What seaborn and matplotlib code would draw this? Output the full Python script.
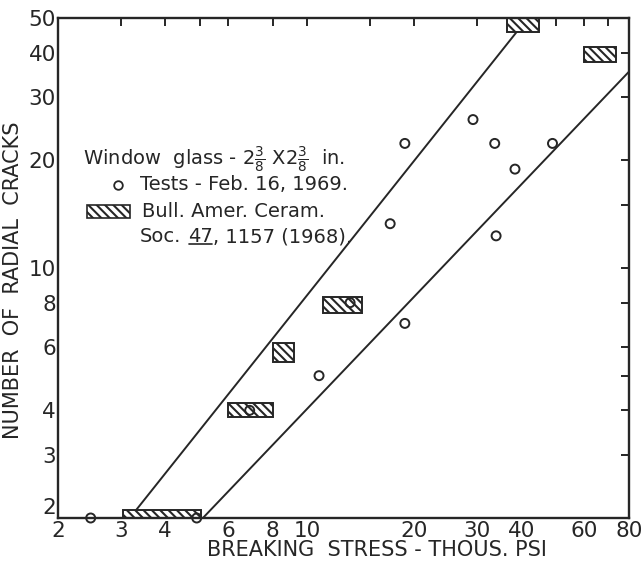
import numpy as np
import pandas as pd
import matplotlib
matplotlib.use("Agg")
import matplotlib.pyplot as plt
from matplotlib.patches import Rectangle
from matplotlib.lines import Line2D
import seaborn as sns

# ---------------- data ----------------
# Tests - Feb. 16, 1969 (open circles)
test_stress = [2.47, 4.9, 6.9, 10.8, 13.2, 18.8, 17.1, 18.8, 29.2, 33.6, 33.9, 38.3, 48.8]
test_cracks = [2.0, 2.0, 4.0, 5.0, 8.0, 7.0, 13.3, 22.3, 26.0, 22.3, 12.3, 18.9, 22.3]

# Bull. Amer. Ceram. Soc. 47, 1157 (1968) (hatched ranges)
bull_stress_lo = [3.05, 5.98, 8.0, 11.1, 36.3, 59.8]
bull_stress_hi = [5.05, 8.02, 9.2, 14.3, 44.6, 73.5]
bull_cracks_lo = [1.9, 3.83, 5.47, 7.47, 45.8, 37.7]
bull_cracks_hi = [2.11, 4.2, 6.18, 8.3, 52.0, 41.6]

# Boundary lines (end points)
upper_line_x = [3.18, 41.6]
upper_line_y = [2.0, 50.0]
lower_line_x = [5.1, 80.0]
lower_line_y = [2.0, 35.4]

x_ticks = [2, 3, 4, 5, 6, 8, 10, 15, 20, 30, 40, 50, 60, 70, 80]
x_tick_labels = ["2", "3", "4", "", "6", "8", "10", "", "20", "30", "40", "", "60", "", "80"]
y_ticks = [2, 3, 4, 5, 6, 8, 10, 15, 20, 30, 40, 50]
y_tick_labels = ["2", "3", "4", "", "6", "8", "10", "", "20", "30", "40", "50"]

x_label = "BREAKING  STRESS - THOUS. PSI"
y_label = "NUMBER  OF  RADIAL  CRACKS"
legend_title = r"Window  glass - 2$\frac{3}{8}$ X2$\frac{3}{8}$  in."
legend_tests = "Tests - Feb. 16, 1969."
legend_bull_1 = "Bull. Amer. Ceram."
legend_bull_2a = "Soc."
legend_bull_2b = "47"
legend_bull_2c = ", 1157 (1968)."

# ---------------- style ----------------
sns.set_theme(style="white")
plt.rcParams["font.family"] = ["DejaVu Sans"]
plt.rcParams["hatch.linewidth"] = 1.5
plt.rcParams["mathtext.fontset"] = "dejavusans"
INK = "#262626"
HATCH = "\\\\\\\\"

fig = plt.figure(figsize=(6.43, 5.63), dpi=100)
ax = fig.add_axes([58 / 643, (563 - 518) / 563, 571 / 643, 500 / 563])
ax.set_xscale("log")
ax.set_yscale("log")
ax.set_xlim(2, 80)
ax.set_ylim(2, 50)

# lines
sns.lineplot(x=upper_line_x, y=upper_line_y, ax=ax, color=INK, lw=1.4, zorder=2)
sns.lineplot(x=lower_line_x, y=lower_line_y, ax=ax, color=INK, lw=1.4, zorder=2)

# hatched ranges
for x0, x1, y0, y1 in zip(bull_stress_lo, bull_stress_hi, bull_cracks_lo, bull_cracks_hi):
    ax.add_patch(Rectangle((x0, y0), x1 - x0, y1 - y0, facecolor="white",
                           edgecolor=INK, hatch=HATCH, lw=1.4, zorder=3))

# circles
df = pd.DataFrame({"stress": test_stress, "cracks": test_cracks})
sns.scatterplot(data=df, x="stress", y="cracks", ax=ax, marker="o", s=42,
                facecolor="none", edgecolor=INK, linewidth=1.4, zorder=4, clip_on=False)

# axes styling
ax.xaxis.set_minor_locator(matplotlib.ticker.NullLocator())
ax.yaxis.set_minor_locator(matplotlib.ticker.NullLocator())
ax.set_xticks(x_ticks)
ax.set_xticklabels(x_tick_labels)
ax.set_yticks(y_ticks)
ax.set_yticklabels(y_tick_labels)
ax.tick_params(axis="both", which="major", direction="in", length=6, width=1.4,
               color=INK, labelsize=15.5, labelcolor=INK, top=True, right=True, pad=2)
ax.tick_params(axis="y", pad=1.5)
ax.get_yticklabels()[0].set_verticalalignment("bottom")
for sp in ax.spines.values():
    sp.set_visible(True)
    sp.set_color(INK)
    sp.set_linewidth(1.7)
    sp.set_zorder(5)

ax.set_xlabel(x_label, fontsize=15, color=INK)
ax.set_ylabel(y_label, fontsize=15, color=INK)
ax.xaxis.set_label_coords(0.558, -0.044)
ax.yaxis.set_label_coords(-0.062, 0.476)

# legend (hand placed)
fs = 14
ax.text(0.043, 0.716, legend_title, transform=ax.transAxes, fontsize=fs, color=INK,
        ha="left", va="center")
ax.plot([0.1045], [0.666], transform=ax.transAxes, marker="o", ms=6.2, mfc="none",
        mec=INK, mew=1.3, ls="none")
ax.text(0.1436, 0.666, legend_tests, transform=ax.transAxes, fontsize=fs, color=INK,
        ha="left", va="center")
ax.add_patch(Rectangle((0.0504, 0.6), 0.0756, 0.026, transform=ax.transAxes,
                       facecolor="white", edgecolor=INK, hatch=HATCH, lw=1.2, zorder=3))
ax.text(0.1464, 0.6126, legend_bull_1, transform=ax.transAxes, fontsize=fs, color=INK,
        ha="left", va="center")
t1 = ax.text(0.1436, 0.5626, legend_bull_2a, transform=ax.transAxes, fontsize=fs,
             color=INK, ha="left", va="center")
t2 = ax.annotate(legend_bull_2b, xy=(1, 0), xycoords=t1, xytext=(5, 0),
                 textcoords="offset points", fontsize=fs, color=INK, ha="left", va="bottom")
t3 = ax.annotate(legend_bull_2c, xy=(1, 0), xycoords=t2, xytext=(0, 0),
                 textcoords="offset points", fontsize=fs, color=INK, ha="left", va="bottom")

fig.canvas.draw()
bb = t2.get_window_extent()
inv = fig.transFigure.inverted()
(ux0, uy0) = inv.transform((bb.x0 + 1, bb.y0 + 2))
(ux1, _) = inv.transform((bb.x1 - 1, bb.y0 + 2))
fig.add_artist(Line2D([ux0, ux1], [uy0, uy0], transform=fig.transFigure, color=INK, lw=1.2))

fig.savefig("out.png", dpi=100, facecolor="white")
